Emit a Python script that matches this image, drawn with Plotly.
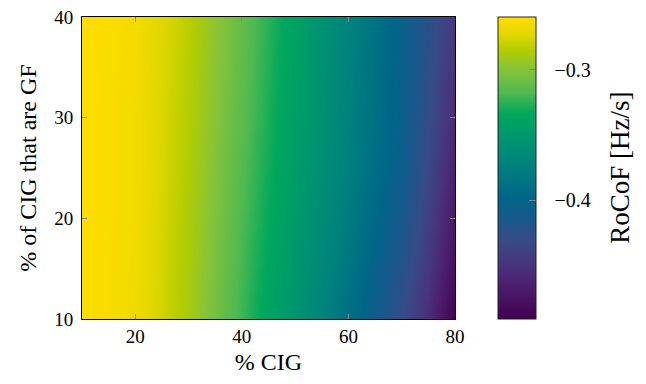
import plotly.graph_objects as go

# Data
cig_pct = [10, 20, 30, 40, 50, 60, 70, 75, 80]          # % CIG (x)
gf_pct = [10, 15, 20, 25, 30, 40]                        # % of CIG that are GF (y)
rocof = [
    [-0.259, -0.266, -0.289, -0.322, -0.355, -0.389, -0.430, -0.455, -0.491],
    [-0.259, -0.266, -0.288, -0.320, -0.351, -0.384, -0.422, -0.446, -0.480],
    [-0.259, -0.265, -0.287, -0.318, -0.348, -0.379, -0.414, -0.439, -0.472],
    [-0.259, -0.265, -0.286, -0.316, -0.345, -0.375, -0.408, -0.433, -0.465],
    [-0.259, -0.265, -0.285, -0.314, -0.343, -0.374, -0.406, -0.428, -0.457],
    [-0.259, -0.264, -0.283, -0.311, -0.340, -0.372, -0.404, -0.423, -0.445],
]
x_ticks = [20, 40, 60, 80]
y_ticks = [10, 20, 30, 40]
cb_ticks = [-0.3, -0.4]
cb_labels = ["\u22120.3", "\u22120.4"]
z_min, z_max = -0.4912, -0.2594

colorscale = [
    [0.00, "rgb(66,0,80)"],
    [0.10, "rgb(76,28,108)"],
    [0.18, "rgb(72,52,126)"],
    [0.26, "rgb(55,75,135)"],
    [0.34, "rgb(20,90,140)"],
    [0.40, "rgb(0,102,136)"],
    [0.50, "rgb(0,128,126)"],
    [0.60, "rgb(0,150,110)"],
    [0.68, "rgb(0,168,92)"],
    [0.75, "rgb(80,185,80)"],
    [0.83, "rgb(135,196,55)"],
    [0.89, "rgb(178,205,0)"],
    [0.94, "rgb(225,215,0)"],
    [1.00, "rgb(255,221,0)"],
]
clear_scale = [[0, "rgba(0,0,0,0)"], [1, "rgba(0,0,0,0)"]]

FONT = "Liberation Serif"
CB_X = 1.115

cb_common = dict(
    x=CB_X, xanchor="left", y=0.5, yanchor="middle",
    len=1.0, lenmode="fraction", thickness=38, thicknessmode="pixels",
    xpad=0, ypad=0, tickvals=cb_ticks,
)

# visible map + its colour bar (bar, outline, gray inside tick dashes)
fig = go.Figure(
    go.Heatmap(
        x=cig_pct, y=gf_pct, z=rocof, zsmooth="best",
        colorscale=colorscale, zmin=z_min, zmax=z_max,
        colorbar=dict(
            outlinewidth=1, outlinecolor="#222",
            ticks="inside", ticklen=7, tickcolor="#888", showticklabels=False,
            **cb_common,
        ),
    )
)
# same data, transparent: supplies the colour bar's tick labels
fig.add_trace(
    go.Heatmap(
        x=cig_pct, y=gf_pct, z=rocof, opacity=0, hoverinfo="skip",
        colorscale=clear_scale, zmin=z_min, zmax=z_max,
        colorbar=dict(
            outlinewidth=0, ticks="outside", ticklen=15, tickcolor="rgba(0,0,0,0)",
            ticktext=cb_labels, tickfont=dict(family=FONT, size=20, color="black"),
            **cb_common,
        ),
    )
)

axis_common = dict(
    showline=True, linecolor="black", linewidth=1, mirror="allticks",
    ticks="inside", ticklen=5, tickcolor="#888", showgrid=False, zeroline=False,
    automargin=False, ticklabeloverflow="allow",
    tickfont=dict(family=FONT, size=19, color="black"),
)

fig.update_layout(
    width=646, height=384,
    margin=dict(l=74, r=199, t=9, b=73, autoexpand=False),
    paper_bgcolor="white", plot_bgcolor="white",
    font=dict(family=FONT, color="black"),
    xaxis=dict(range=[10, 80], tickvals=x_ticks,
               title=dict(text="% CIG", font=dict(family=FONT, size=24), standoff=7), **axis_common),
    yaxis=dict(range=[10, 40], tickvals=y_ticks, ticklabelstandoff=4,
               title=dict(text="% of CIG that are GF", font=dict(family=FONT, size=24), standoff=10), **axis_common),
    annotations=[dict(
        text="RoCoF [Hz/s]", textangle=-90, xref="paper", yref="paper",
        x=1.4416, y=0.5, xanchor="center", yanchor="middle", showarrow=False,
        font=dict(family=FONT, size=27, color="black"),
    )],
)

fig.write_html("out.html")
